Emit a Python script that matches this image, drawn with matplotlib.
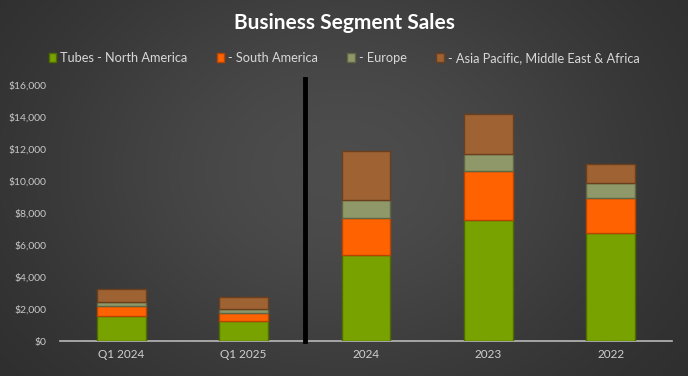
import matplotlib.pyplot as plt
import numpy as np
from matplotlib.ticker import FuncFormatter

plt.rcParams['font.family'] = ['Lato', 'DejaVu Sans']

periods = ["Q1 2024", "Q1 2025", "2024", "2023", "2022"]
north_america = [1540, 1230, 5350, 7540, 6750]
south_america = [650, 540, 2330, 3060, 2210]
europe = [230, 210, 1150, 1070, 900]
apmea = [860, 770, 3040, 2500, 1230]
series_names = ["Tubes - North America", "- South America", "- Europe",
                "- Asia Pacific, Middle East & Africa"]

colors = ["#78a200", "#ff6200", "#8e9868", "#9e6233"]
edges = ["#4f6c00", "#b84400", "#5f6645", "#6b3f1d"]

fig = plt.figure(figsize=(6.88, 3.76), dpi=100)

# radial gradient background
bg = fig.add_axes([0, 0, 1, 1], zorder=-10)
yy, xx = np.mgrid[0:376, 0:688]
d2 = ((xx - 340) / 330.0) ** 2 + ((yy - 170) / 250.0) ** 2
shade = 0.16 + 0.14 * np.exp(-d2)
bg.imshow(np.dstack([shade] * 3), aspect='auto', extent=[0, 1, 0, 1])
bg.axis('off')

ax = fig.add_axes([60 / 688, 35 / 376, 612 / 688, 256 / 376])
ax.set_facecolor('none')

x = np.arange(len(periods))
bottom = np.zeros(len(periods))
for vals, name, c, e in zip([north_america, south_america, europe, apmea],
                            series_names, colors, edges):
    ax.bar(x, vals, 0.4, bottom=bottom, color=c, edgecolor=e, linewidth=1.0,
           label=name, zorder=3)
    bottom += np.array(vals)

ax.set_xlim(-0.5, len(periods) - 0.5)
ax.set_ylim(0, 16000)
ax.set_yticks(np.arange(0, 16001, 2000))
ax.yaxis.set_major_formatter(FuncFormatter(lambda v, p: "${:,.0f}".format(v)))
ax.set_xticks(x)
ax.set_xticklabels(periods)
ax.tick_params(axis='y', colors='#c8c8c8', labelsize=7.5, length=0, pad=10)
ax.tick_params(axis='x', colors='#d0d0d0', labelsize=8.5, length=0, pad=6)
for s in ['top', 'right', 'left']:
    ax.spines[s].set_visible(False)
ax.spines['bottom'].set_color('#b8b8b8')
ax.spines['bottom'].set_linewidth(1.2)

# divider between quarterly and annual figures
ax.plot([1.5, 1.5], [0, 16350], color='black', linewidth=3.5, clip_on=False, zorder=4)

fig.text(0.5, 1 - 23 / 376, "Business Segment Sales", ha='center', va='center',
         color='white', fontsize=15, fontweight='bold')

leg = fig.legend(loc='center', bbox_to_anchor=(0.5, 1 - 58 / 376), ncol=4,
                 frameon=False, fontsize=9.2, handlelength=0.6, handleheight=0.7,
                 handletextpad=0.3, columnspacing=2.3)
for t in leg.get_texts():
    t.set_color('#d8d8d8')

fig.savefig("out.png", dpi=100)
